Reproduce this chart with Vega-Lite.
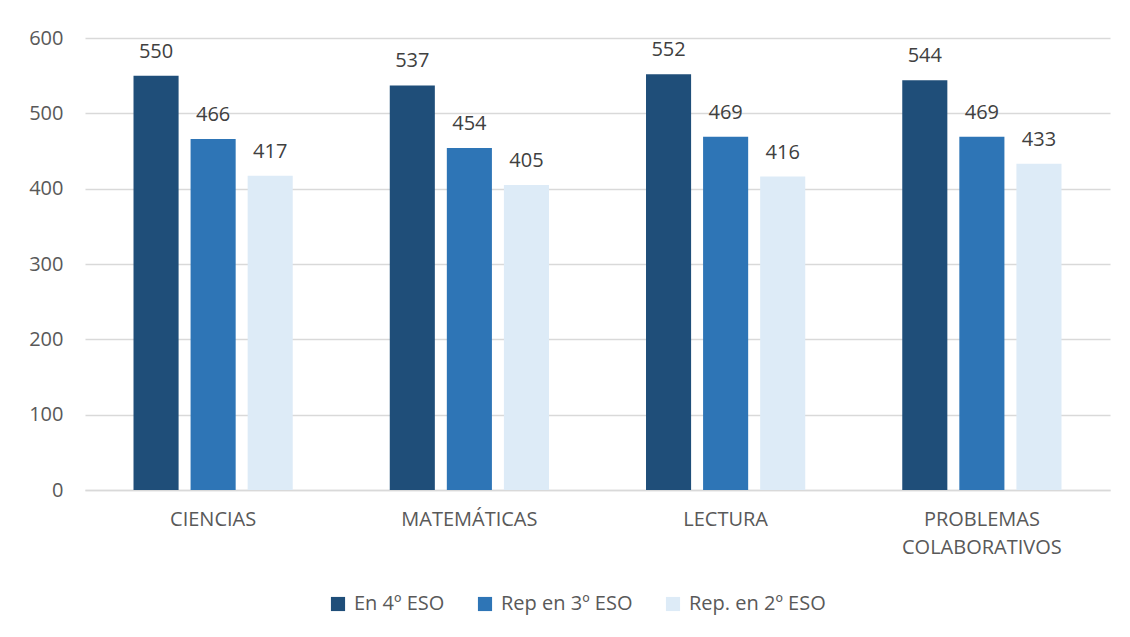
{
  "$schema": "https://vega.github.io/schema/vega-lite/v6.json",
  "width": 1025,
  "height": 452,
  "autosize": {"type": "none"},
  "padding": {"left": 85, "top": 38, "right": 20, "bottom": 147},
  "background": "white",
  "config": {
    "font": "Open Sans",
    "view": {"stroke": null},
    "axis": {"labelFont": "Open Sans", "labelColor": "#595959", "labelFontSize": 20},
    "legend": {"labelFont": "Open Sans", "labelColor": "#595959", "labelFontSize": 20}
  },
  "data": {
    "values": [
      {"materia": "CIENCIAS", "grupo": "En 4º ESO", "valor": 550},
      {"materia": "CIENCIAS", "grupo": "Rep en 3º ESO", "valor": 466},
      {"materia": "CIENCIAS", "grupo": "Rep. en 2º ESO", "valor": 417},
      {"materia": "MATEMÁTICAS", "grupo": "En 4º ESO", "valor": 537},
      {"materia": "MATEMÁTICAS", "grupo": "Rep en 3º ESO", "valor": 454},
      {"materia": "MATEMÁTICAS", "grupo": "Rep. en 2º ESO", "valor": 405},
      {"materia": "LECTURA", "grupo": "En 4º ESO", "valor": 552},
      {"materia": "LECTURA", "grupo": "Rep en 3º ESO", "valor": 469},
      {"materia": "LECTURA", "grupo": "Rep. en 2º ESO", "valor": 416},
      {"materia": "PROBLEMAS COLABORATIVOS", "grupo": "En 4º ESO", "valor": 544},
      {"materia": "PROBLEMAS COLABORATIVOS", "grupo": "Rep en 3º ESO", "valor": 469},
      {"materia": "PROBLEMAS COLABORATIVOS", "grupo": "Rep. en 2º ESO", "valor": 433}
    ]
  },
  "encoding": {
    "x": {
      "field": "materia",
      "type": "nominal",
      "sort": null,
      "scale": {"paddingInner": 0, "paddingOuter": 0},
      "axis": {
        "title": null,
        "labelAngle": 0,
        "ticks": false,
        "domainColor": "#d9d9d9",
        "domainWidth": 1.5,
        "labelPadding": 19,
        "labelLineHeight": 28,
        "labelExpr": "datum.value == 'PROBLEMAS COLABORATIVOS' ? ['PROBLEMAS', 'COLABORATIVOS'] : datum.value"
      }
    },
    "xOffset": {
      "field": "grupo",
      "type": "nominal",
      "sort": null,
      "scale": {"paddingInner": 0.21, "paddingOuter": 0.85}
    },
    "y": {
      "field": "valor",
      "type": "quantitative",
      "scale": {"domain": [0, 600], "nice": false},
      "axis": {
        "title": null,
        "values": [0, 100, 200, 300, 400, 500, 600],
        "domain": false,
        "ticks": false,
        "gridColor": "#d9d9d9",
        "gridWidth": 1.5,
        "labelPadding": 22
      }
    }
  },
  "layer": [
    {
      "mark": {"type": "bar"},
      "encoding": {
        "color": {
          "field": "grupo",
          "type": "nominal",
          "sort": null,
          "scale": {"domain": ["En 4º ESO", "Rep en 3º ESO", "Rep. en 2º ESO"], "range": ["#1f4e79", "#2e75b6", "#ddebf7"]},
          "legend": {
            "title": null,
            "orient": "none",
            "legendX": 243,
            "legendY": 556,
            "direction": "horizontal",
            "symbolType": "square",
            "symbolSize": 200,
            "symbolStrokeWidth": 0,
            "columnPadding": 30,
            "labelOffset": 6
          }
        }
      }
    },
    {
      "mark": {"type": "text", "baseline": "alphabetic", "dy": -18, "fontSize": 20, "color": "#404040", "font": "Open Sans"},
      "encoding": {
        "text": {"field": "valor", "type": "quantitative"}
      }
    }
  ]
}
